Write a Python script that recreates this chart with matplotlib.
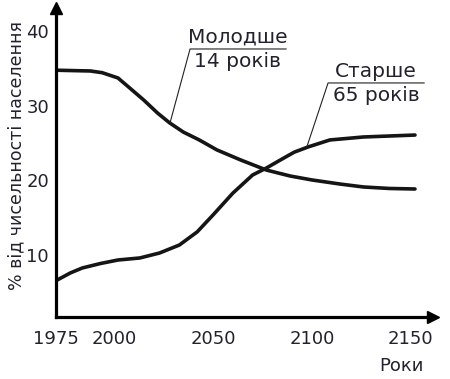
import matplotlib

matplotlib.use("Agg")
import matplotlib.pyplot as plt

young_years = [1971, 1984, 1988, 1994, 2002, 2008, 2015, 2022, 2028, 2035,
               2043, 2052, 2064, 2077, 2089, 2100, 2114, 2126, 2139, 2152]
young_pct = [34.8, 34.72, 34.7, 34.47, 33.76, 32.4, 30.8, 29.05, 27.75,
             26.5, 25.45, 24.1, 22.75, 21.4, 20.6, 20.07, 19.53, 19.13,
             18.93, 18.86]

old_years = [1971, 1978, 1984, 1993, 2002, 2013, 2023, 2033, 2042, 2050,
             2060, 2070, 2077, 2084, 2091, 2098, 2109, 2126, 2139, 2152]
old_pct = [6.6, 7.6, 8.26, 8.85, 9.33, 9.6, 10.27, 11.34, 13.1, 15.37,
           18.3, 20.74, 21.68, 22.75, 23.8, 24.5, 25.44, 25.84, 25.97, 26.1]

x_labels = ["1975", "2000", "2050", "2100", "2150"]
y_ticks = [10, 20, 30, 40]

TXT = "#22222e"
FS = 13

fig = plt.figure(figsize=(4.5, 3.79), dpi=100)
ax = fig.add_axes([56 / 450, 62 / 379, 377 / 450, 309 / 379])
x0, x1 = 1970.7, 2161.1
ax.set_xlim(x0, x1)
ax.set_ylim(1.68, 43.15)

ax.plot(young_years, young_pct, color="#151515", lw=2.6,
        solid_capstyle="round", solid_joinstyle="round")
ax.plot(old_years, old_pct, color="#151515", lw=2.6,
        solid_capstyle="round", solid_joinstyle="round")

for s in ("top", "right"):
    ax.spines[s].set_visible(False)
for s in ("left", "bottom"):
    ax.spines[s].set_linewidth(2.3)
    ax.spines[s].set_color("black")
ax.plot(1, 0, ">k", ms=8, transform=ax.transAxes, clip_on=False)
ax.plot(0, 1, "^k", ms=8, transform=ax.transAxes, clip_on=False)

ax.set_xticks([x0, 2000, 2050, 2100, 2149.5])
ax.set_xticklabels(x_labels)
ax.set_yticks(y_ticks)
ax.tick_params(length=0, labelsize=FS, labelcolor=TXT)
ax.tick_params(axis="x", pad=9)
ax.tick_params(axis="y", pad=5)

# callouts
AFS = 14.5
ax.plot([2028.3, 2038.4, 2086.9], [27.75, 37.65, 37.65], color="#222",
        lw=0.8)
ax.text(2062.6, 37.95, "Молодше", ha="center", va="bottom", fontsize=AFS,
        color=TXT)
ax.text(2062.6, 37.2, "14 років", ha="center", va="top", fontsize=AFS,
        color=TXT)
ax.plot([2097.5, 2108.1, 2156.6], [24.6, 33.09, 33.09], color="#222",
        lw=0.8)
ax.text(2132.3, 33.4, "Старше", ha="center", va="bottom", fontsize=AFS,
        color=TXT)
ax.text(2132.3, 32.65, "65 років", ha="center", va="top", fontsize=AFS,
        color=TXT)

fig.text(424 / 450, 1 - 371 / 379, "Роки", ha="right", va="baseline",
         fontsize=FS, color=TXT)
fig.text(16 / 450, 1 - 156 / 379, "% від чисельності населення",
         rotation=90, ha="center", va="center", fontsize=12.5, color=TXT)

fig.savefig("out.png", dpi=100)
